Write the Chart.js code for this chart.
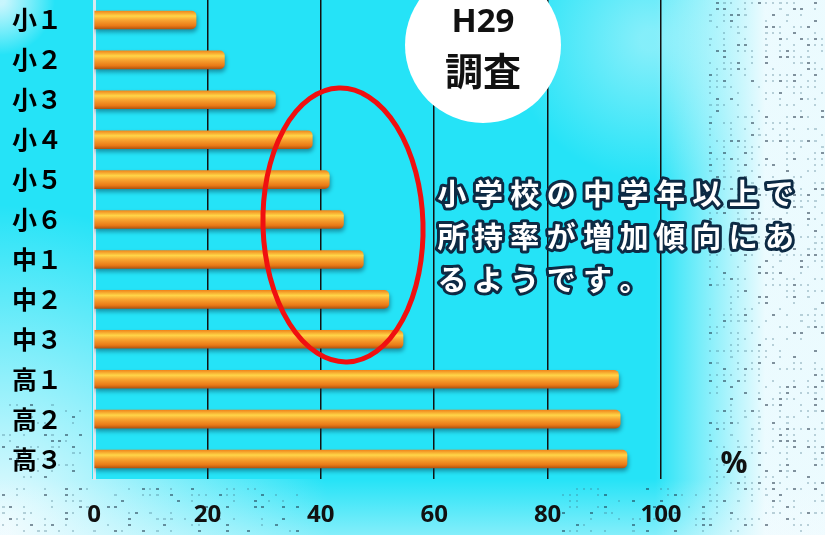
<!DOCTYPE html>
<html><head><meta charset="utf-8">
<script src="https://cdn.jsdelivr.net/npm/chart.js@4"></script>
<style>
html,body{margin:0;padding:0;background:#fff}
#wrap{width:825px;height:535px;position:relative}
</style>
</head><body>
<div id="wrap"><canvas id="ch"></canvas></div>
<script>
// data (所持率 %)
const GRADES = ['小１','小２','小３','小４','小５','小６','中１','中２','中３','高１','高２','高３'];
const RATES  = [18, 23, 32, 38.5, 41.5, 44, 47.5, 52, 54.5, 92.5, 92.8, 94];
const X_TICKS = [0, 20, 40, 60, 80, 100];
const BADGE = ['H29', '調査'];
const NOTE  = ['小学校の中学年以上で', '所持率が増加傾向にあ', 'るようです。'];
const UNIT  = '%';

const JP = '"Noto Sans CJK JP", "Noto Sans", sans-serif';

// background: cyan with pale, speckled edges
const bgPlugin = {
  id: 'bg',
  beforeDraw(chart) {
    const { ctx, width, height } = chart;
    const a = chart.chartArea;
    ctx.save();
    ctx.fillStyle = '#25e3f7';
    ctx.fillRect(0, 0, width, height);
    // soft lighter patch top right
    let g = ctx.createRadialGradient(650, 40, 10, 650, 40, 140);
    g.addColorStop(0, 'rgba(210,248,253,0.55)');
    g.addColorStop(1, 'rgba(210,248,253,0)');
    ctx.fillStyle = g; ctx.fillRect(480, 0, 345, 200);
    // right side fades to white
    g = ctx.createLinearGradient(655, 0, 765, 0);
    g.addColorStop(0, 'rgba(255,255,255,0)');
    g.addColorStop(1, 'rgba(246,252,255,0.95)');
    ctx.fillStyle = g; ctx.fillRect(655, 0, width - 655, height);
    // bottom strip and lower-left corner, outside the plot
    ctx.save();
    ctx.beginPath();
    ctx.rect(0, a.bottom, width, height - a.bottom);
    ctx.rect(0, 0, a.left - 2, a.bottom);
    ctx.clip();
    g = ctx.createRadialGradient(0, height, 10, 0, height, 330);
    g.addColorStop(0, 'rgba(246,252,255,0.95)');
    g.addColorStop(1, 'rgba(246,252,255,0)');
    ctx.fillStyle = g; ctx.fillRect(0, 0, width, height);
    g = ctx.createLinearGradient(0, a.bottom, 0, height);
    g.addColorStop(0, 'rgba(246,252,255,0)');
    g.addColorStop(1, 'rgba(246,252,255,0.45)');
    ctx.fillStyle = g; ctx.fillRect(0, a.bottom, width, height - a.bottom);
    ctx.restore();
    g = ctx.createRadialGradient(0, 0, 5, 0, 0, 55);
    g.addColorStop(0, 'rgba(240,250,255,0.8)');
    g.addColorStop(1, 'rgba(255,255,255,0)');
    ctx.fillStyle = g; ctx.fillRect(0, 0, 80, 80);
    // speckle texture on the pale parts
    for (let y = 2; y < height; y += 6) {
      for (let x = 2; x < width; x += 7) {
        const right = x > 705;
        const bottom = y > a.bottom + 4 && (x < 300 || x > 560);
        const left = x < a.left - 8 && y > 400;
        if (!right && !bottom && !left) continue;
        const h = Math.abs(Math.sin(x * 12.9898 + y * 78.233) * 43758.5453) % 1;
        if (h < (right ? 0.5 : 0.62)) continue;
        ctx.fillStyle = h > 0.86 ? 'rgba(20,40,60,0.5)' : 'rgba(60,110,130,0.3)';
        ctx.fillRect(x, y, h > 0.8 ? 3 : 2, 2);
      }
    }
    ctx.restore();
  }
};

// soft drop shadow under the bars
const shadowPlugin = {
  id: 'shadow',
  beforeDatasetsDraw(chart) {
    const ctx = chart.ctx;
    ctx.save();
    ctx.shadowColor = 'rgba(0,50,70,0.45)';
    ctx.shadowOffsetY = 3;
    ctx.shadowOffsetX = 1;
    ctx.shadowBlur = 4;
  },
  afterDatasetsDraw(chart) { chart.ctx.restore(); }
};

// badge, ellipse, note text and unit
const overlayPlugin = {
  id: 'overlay',
  afterDraw(chart) {
    const ctx = chart.ctx;
    ctx.save();
    // white badge
    ctx.fillStyle = '#fff';
    ctx.beginPath(); ctx.arc(483, 45, 78, 0, Math.PI * 2); ctx.fill();
    ctx.fillStyle = '#111';
    ctx.textAlign = 'center'; ctx.textBaseline = 'middle';
    ctx.font = 'bold 33px "Open Sans", ' + JP;
    ctx.fillText(BADGE[0], 483, 23);
    ctx.font = 'bold 38px ' + JP;
    ctx.fillText(BADGE[1], 483, 71);

    // red ellipse
    ctx.strokeStyle = '#f01010';
    ctx.lineWidth = 5;
    ctx.beginPath(); ctx.ellipse(343, 225, 80, 137, -0.03, 0, Math.PI * 2); ctx.stroke();

    // outlined note text
    ctx.font = 'bold 29px ' + JP;
    ctx.textAlign = 'center';
    ctx.lineJoin = 'round';
    const ys = [194, 237, 280];
    NOTE.forEach((line, li) => {
      [...line].forEach((chr, i) => {
        const x = 452 + i * 36.4;
        ctx.strokeStyle = '#0d2a44'; ctx.lineWidth = 6;
        ctx.strokeText(chr, x, ys[li]);
        ctx.fillStyle = '#fff';
        ctx.fillText(chr, x, ys[li]);
      });
    });

    // unit
    ctx.fillStyle = '#111';
    ctx.font = 'bold 30px "Open Sans", sans-serif';
    ctx.fillText(UNIT, 734, 464);
    ctx.restore();
  }
};

function barFill(c) {
  const ch = c.chart, ys = ch.scales.y;
  if (!ys || !ch.chartArea) return '#f39a2b';
  const yc = ys.getPixelForValue(c.dataIndex), h = 9;
  const g = ch.ctx.createLinearGradient(0, yc - h, 0, yc + h);
  g.addColorStop(0, '#f0871c');
  g.addColorStop(0.28, '#ffd548');
  g.addColorStop(0.5, '#f8a532');
  g.addColorStop(0.82, '#ea7a16');
  g.addColorStop(1, '#b35510');
  return g;
}

new Chart(document.getElementById('ch'), {
  type: 'bar',
  data: {
    labels: GRADES,
    datasets: [{
      data: RATES,
      backgroundColor: barFill,
      borderWidth: 0,
      borderRadius: { topRight: 5, bottomRight: 5 },
      borderSkipped: false,
      barThickness: 18
    }]
  },
  options: {
    indexAxis: 'y',
    responsive: true,
    maintainAspectRatio: false,
    animation: false,
    layout: { padding: { top: 0, right: 164, bottom: 0, left: 0 } },
    plugins: { legend: { display: false }, tooltip: { enabled: false } },
    scales: {
      x: {
        min: 0, max: 100,
        afterBuildTicks: ax => { ax.ticks = X_TICKS.map(v => ({ value: v })); },
        afterFit: ax => { ax.height = 56; ax.paddingLeft = 0; ax.paddingRight = 0; },
        grid: {
          color: c => c.tick && c.tick.value === 0 ? 'rgba(0,0,0,0)' : '#111',
          lineWidth: 1.5, drawTicks: false
        },
        border: { display: false },
        ticks: { color: '#111', font: { family: '"Open Sans", sans-serif', size: 24, weight: 'bold' }, padding: 22 }
      },
      y: {
        afterFit: ax => { ax.width = 94; ax.paddingTop = 0; ax.paddingBottom = 0; },
        grid: { display: false, drawTicks: false },
        border: { color: '#d7e9ef', width: 3 },
        ticks: { color: '#000', font: { family: JP, size: 25, weight: 'bold' }, padding: 32 }
      }
    }
  },
  plugins: [bgPlugin, shadowPlugin, overlayPlugin]
});
</script>
</body></html>
